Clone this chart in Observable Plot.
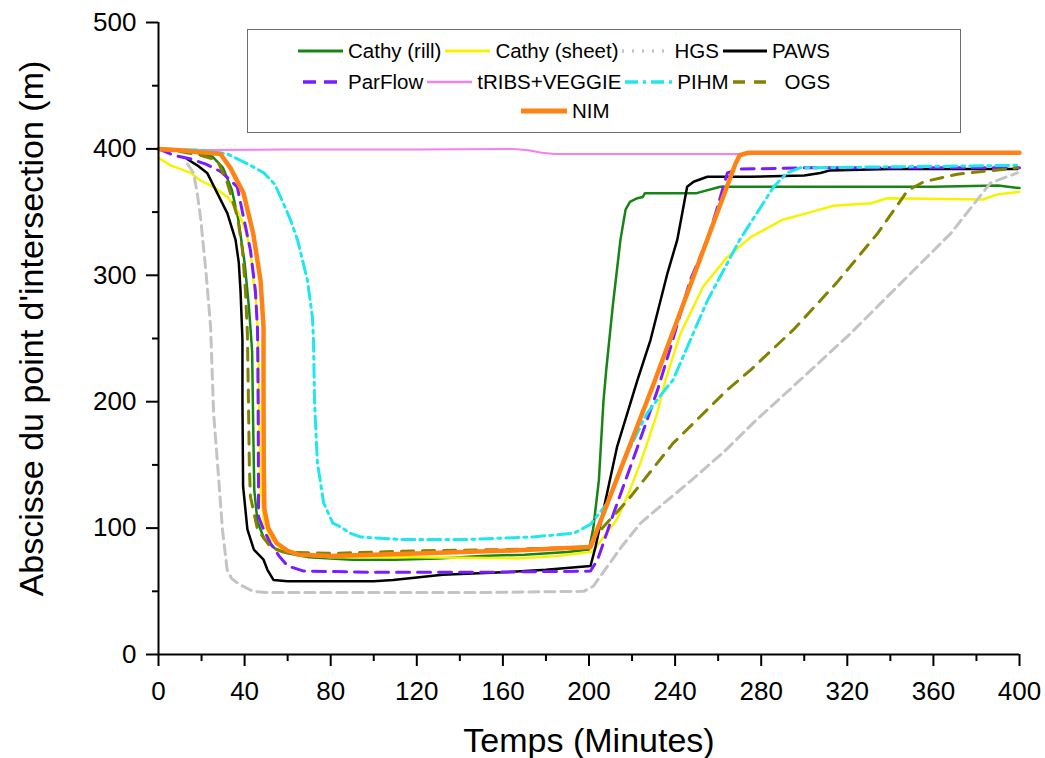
<!DOCTYPE html>
<html><head><meta charset="utf-8">
<script src="https://cdn.jsdelivr.net/npm/d3@7"></script>
<script src="https://cdn.jsdelivr.net/npm/@observablehq/plot@0.6"></script>
<style>
body{margin:0;background:#fff;font-family:"Liberation Sans",Arial,sans-serif;}
#wrap{position:relative;width:1045px;height:758px;overflow:hidden;}
#legend{position:absolute;left:247px;top:29px;width:714px;height:104px;border:1.5px solid #6e6e6e;box-sizing:border-box;background:#fff;}
.row{position:absolute;display:flex;align-items:center;height:24px;font-size:20.5px;color:#000;white-space:nowrap;}
.item{display:flex;align-items:center;}
.item svg{display:block;}
.item span{margin:0 4px 0 5px;}
</style></head><body><div id="wrap"><div id="legend"></div></div>
<script>
// time (minutes), abscissa (m)
const cathyRill = [[0,400],[15,398],[25,394],[30,385],[34,368],[37,345],[40,310],[42,275],[43.5,240],[44,180],[44.5,130],[46,105],[49,92],[54,84],[60,80],[70,77],[90,75],[110,75],[130,76],[150,78],[170,79],[190,81],[200,83],[202,100],[204.6,138],[206.7,200],[208,225],[211,275],[214.6,328],[217,352],[219,358],[222.5,361],[225,362],[226,365],[250,365],[261,370],[300,370],[360,370],[390,371],[400,369]];
const cathySheet = [[0,393],[5.6,387],[15,381],[19.5,375],[25.5,370],[32,362],[36.7,351],[40.4,336],[42.7,320],[44.1,296],[45.5,275],[46.5,240],[47,180],[47.5,130],[49,105],[52,92],[57,84],[65,79],[80,77],[120,77],[167,76],[185,78],[200.7,81],[202,82],[213,107],[218.5,128],[224,152],[231.7,191],[235.5,217],[242.5,254],[253,291],[264,314],[275,330],[290,344],[303,350],[313.6,355],[331,357],[338.6,361],[383,360],[389.6,364],[400,366]];
const hgs = [[13.5,388],[16.3,381],[18,365],[19.5,346],[21.8,307],[23.2,280],[24.2,259],[25.6,191],[28,138],[29.7,99],[31.9,67],[34,60],[38,55],[44,50],[50,49],[100,49],[150,49],[197.5,50],[202,54],[205.3,62],[215,85],[224,104],[235,120],[247,137],[262.5,160],[278,186],[298,217],[321.5,254],[345,294],[368,333],[386.5,373],[399,381]];
const paws = [[13.3,392],[18,387],[22.6,381],[27.3,365],[32,349],[35.8,328],[37.3,310],[38.1,288],[39,249],[39,200],[39.3,133],[41.3,99],[44.3,83],[48.8,75],[50.6,67],[53.4,59],[60,58],[80,58],[100,58],[109,59],[120,61],[132,63],[160,65],[180,67],[200.7,70],[203,85],[213,164],[222.5,217],[228.6,249],[236.5,302],[241,328],[245.6,370],[248.6,374],[255,378],[275,378],[300,379],[307.5,381],[312,383],[340,384],[399,384]];
const parflow = [[0,400],[7,395],[15,392],[22,388],[29,382],[36.6,370],[39.5,346],[42.7,320],[45,288],[46,257],[46.3,200],[46.5,109],[48.8,99],[52,88],[56,78],[60,70],[67.5,66],[100,65],[150,65],[200.7,66],[204,75],[211.5,112],[222.5,164],[231.8,209],[237.9,243],[247,296],[255,328],[259.7,354],[264.3,381],[270,384],[300,385],[400,385]];
const tribs = [[0,399],[60,399.5],[120,399.5],[165,400],[172,399],[178,397],[184,396],[250,396],[399,396]];
const pihm = [[0,400],[20,399],[32,396],[42.7,387],[49,381],[54,372],[58,357],[61.5,343],[64.6,328],[69.2,296],[71.5,267],[72,249],[72.5,200],[73.8,152],[76.7,120],[81,104],[84.6,101],[89,96],[93.8,93],[112,91],[143.5,91],[174,93],[193,96],[200.7,103],[208.6,120],[218,160],[227,191],[236.5,212],[239,217],[255,280],[270,328],[285.8,370],[292,381],[298,385],[399,387]];
const ogs = [[0,400],[10,398],[19.5,395],[27.3,391],[32,373],[36.7,346],[39,320],[40.4,288],[41.3,254],[41.8,200],[42.2,150],[42.7,125],[46,99],[52,85],[58,81],[80,80],[120,82],[160,83],[200,85],[204,96],[218,122],[239,167],[264,209],[275,225],[295,257],[315,294],[334,333],[348,367],[355.5,374],[371,380],[399,385]];
const nim = [[0,400],[10,399],[28.8,396],[33.4,385],[39.5,365],[44,333],[47.4,296],[48.8,259],[48.8,200],[48.9,150],[49.2,115],[51,100],[55,88],[60,82],[65,79],[80,78],[120,80],[160,82],[200.7,85],[230,214],[268,388],[270,395],[274,397],[400,397]];

const xMajor = [0,40,80,120,160,200,240,280,320,360,400];
const xMinor = [20,60,100,140,180,220,260,300,340,380];
const yMajor = [0,100,200,300,400,500];
const yMinor = [50,150,250,350,450];

const series = [
  {name:"Cathy (rill)", data:cathyRill, color:"#168516", width:2.5, dash:null},
  {name:"Cathy (sheet)", data:cathySheet, color:"#f7f300", width:2.5, dash:null},
  {name:"HGS", data:hgs, color:"#c4c4c4", width:3, dash:"10,6"},
  {name:"PAWS", data:paws, color:"#000000", width:2.5, dash:null},
  {name:"ParFlow", data:parflow, color:"#7a1cff", width:3, dash:"13,8"},
  {name:"tRIBS+VEGGIE", data:tribs, color:"#f77ff2", width:2, dash:null},
  {name:"PIHM", data:pihm, color:"#1ee8ee", width:3, dash:"13,5,3,5"},
  {name:"OGS", data:ogs, color:"#838200", width:3, dash:"12,9"},
  {name:"NIM", data:nim, color:"#ff8214", width:4.5, dash:null}
];

const font = '"Liberation Sans", Arial, sans-serif';
const chart = Plot.plot({
  width:1045, height:758,
  marginLeft:158, marginRight:26, marginTop:22, marginBottom:104,
  x:{domain:[0,400]}, y:{domain:[0,500]},
  style:{fontFamily:font, color:"#000", background:"#fff", overflow:"visible"},
  marks:[
    ...series.map(s => Plot.line(s.data, {x:d=>d[0], y:d=>d[1], stroke:s.color, strokeWidth:s.width, strokeDasharray:s.dash, strokeLinejoin:"round"})),
    Plot.ruleX([0], {stroke:"#000", strokeWidth:2}),
    Plot.ruleY([0], {stroke:"#000", strokeWidth:2}),
    Plot.axisX({ticks:xMajor, tickSize:12, tickPadding:15, fontSize:26, label:null, strokeWidth:2, tickFormat:d=>String(d)}),
    Plot.axisX({ticks:xMinor, tickSize:7, label:null, strokeWidth:2, tickFormat:()=>""}),
    Plot.axisY({ticks:yMajor, tickSize:12, tickPadding:10, fontSize:26, label:null, strokeWidth:2, tickFormat:d=>String(d)}),
    Plot.axisY({ticks:yMinor, tickSize:6, label:null, strokeWidth:2, tickFormat:()=>""}),
    Plot.text(["Temps (Minutes)"], {frameAnchor:"bottom", dy:97, fontSize:34, lineAnchor:"bottom", textAnchor:"middle", fill:"#000"}),
    Plot.text(["Abscisse du point d'intersection (m)"], {frameAnchor:"left", rotate:-90, dx:-116, dy:-10, fontSize:34, lineAnchor:"bottom", textAnchor:"middle", fill:"#000"})
  ]
});
const wrap = document.getElementById("wrap");
wrap.insertBefore(chart, wrap.firstChild);

// legend
const rows = [
  {left:50, top:9, items:[["Cathy (rill)",45],["Cathy (sheet)",45],["HGS",47],["PAWS",44]]},
  {left:55, top:40, items:[["ParFlow",40],["tRIBS+VEGGIE",45],["PIHM",47],["OGS",34,18]]},
  {left:273, top:69, items:[["NIM",46]]}
];
const legend = document.getElementById("legend");
for (const r of rows) {
  const row = document.createElement("div");
  row.className = "row";
  row.style.left = r.left + "px";
  row.style.top = r.top + "px";
  for (const [name, w, gap] of r.items) {
    const s = series.find(d => d.name === name);
    const item = document.createElement("div");
    item.className = "item";
    const svg = d3.create("svg").attr("width", w).attr("height", 12);
    svg.append("line").attr("x1", 0).attr("x2", w).attr("y1", 6).attr("y2", 6)
      .attr("stroke", s.color).attr("stroke-width", s.width + 0.5)
      .attr("stroke-dasharray", name === "HGS" ? "2,8" : s.dash);
    item.appendChild(svg.node());
    const span = document.createElement("span");
    span.textContent = name;
    if (gap) span.style.marginLeft = gap + "px";
    item.appendChild(span);
    row.appendChild(item);
  }
  legend.appendChild(row);
}
</script>
</body></html>
